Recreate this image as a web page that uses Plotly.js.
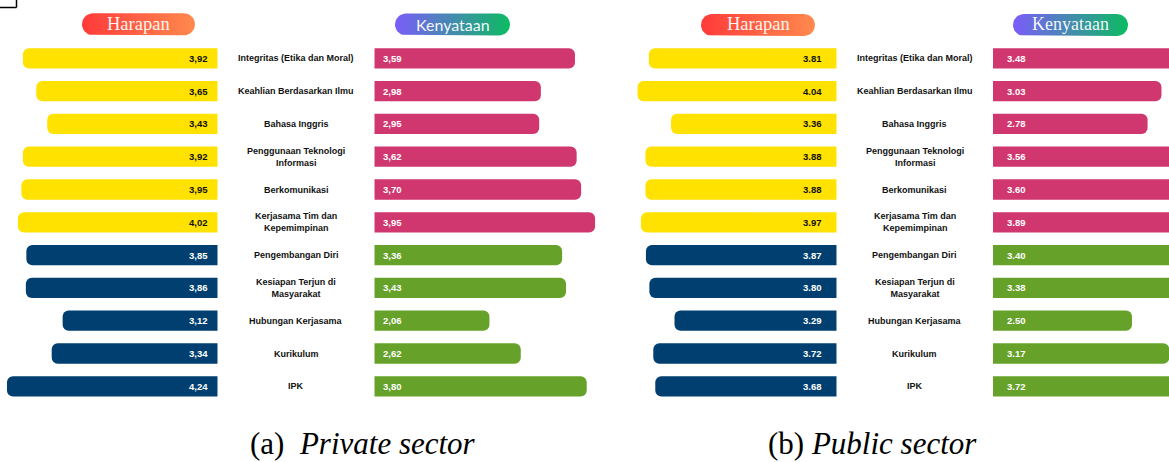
<!DOCTYPE html>
<html><head><meta charset="utf-8">
<script src="https://cdn.plot.ly/plotly-3.0.1.min.js"></script>
<style>html,body{margin:0;padding:0;background:#fff;overflow:hidden}#chart{width:1169px;height:462px}</style>
</head><body><div id="chart"></div>
<script>
// ---------- data ----------
const categories = ['Integritas (Etika dan Moral)','Keahlian Berdasarkan Ilmu','Bahasa Inggris','Penggunaan Teknologi Informasi','Berkomunikasi','Kerjasama Tim dan Kepemimpinan','Pengembangan Diri','Kesiapan Terjun di Masyarakat','Hubungan Kerjasama','Kurikulum','IPK'];
const categoryLabels = ['Integritas (Etika dan Moral)','Keahlian Berdasarkan Ilmu','Bahasa Inggris','Penggunaan Teknologi<br>Informasi','Berkomunikasi','Kerjasama Tim dan<br>Kepemimpinan','Pengembangan Diri','Kesiapan Terjun di<br>Masyarakat','Hubungan Kerjasama','Kurikulum','IPK'];
const groupIndex = [0,0,0,0,0,0,1,1,1,1,1];
const privateHarapan   = [3.92,3.65,3.43,3.92,3.95,4.02,3.85,3.86,3.12,3.34,4.24];
const privateKenyataan = [3.59,2.98,2.95,3.62,3.70,3.95,3.36,3.43,2.06,2.62,3.80];
const publicHarapan    = [3.81,4.04,3.36,3.88,3.88,3.97,3.87,3.80,3.29,3.72,3.68];
const publicKenyataan  = [3.48,3.03,2.78,3.56,3.60,3.89,3.40,3.38,2.50,3.17,3.72];
const headerLabels = ['Harapan','Kenyataan'];
const captions = ['(a)', 'Private sector', '(b)', 'Public sector'];

// ---------- styling ----------
const W = 1169, H = 462;
const px = p => p / W;
const py = p => 1 - p / H;
const harapanColors = ['#FFE200', '#013F70'];
const kenyataanColors = ['#D0376F', '#66A22A'];
const harapanText = ['#111111', '#FFFFFF'];
const SANS = 'Liberation Sans, Arial, sans-serif';
const SERIF = 'Liberation Serif, Times New Roman, serif';

const fmtComma = v => v.toFixed(2).replace('.', ',');
const fmtDot = v => v.toFixed(2);

function barTrace(vals, xa, palette) {
  return {
    type: 'bar', orientation: 'h', x: vals, y: categories,
    xaxis: xa, yaxis: 'y', width: 0.62,
    marker: { color: groupIndex.map(g => palette[g]), cornerradius: 6, line: { width: 0 } },
    hoverinfo: 'skip', showlegend: false
  };
}

function pill(x0, x1, y0, y1) {
  const r = (y1 - y0) / 2, cy = (y0 + y1) / 2;
  const xs = [], ys = [];
  for (let a = -90; a <= 90; a += 10) {
    const t = a * Math.PI / 180;
    xs.push(x1 - r + r * Math.cos(t)); ys.push(cy + r * Math.sin(t));
  }
  for (let a = 90; a <= 270; a += 10) {
    const t = a * Math.PI / 180;
    xs.push(x0 + r + r * Math.cos(t)); ys.push(cy + r * Math.sin(t));
  }
  xs.push(xs[0]); ys.push(ys[0]);
  return { xs, ys };
}
function pillTrace(g, c0, c1) {
  const p = pill(...g);
  return {
    type: 'scatter', mode: 'lines', x: p.xs, y: p.ys, xaxis: 'x5', yaxis: 'y5',
    line: { width: 0, color: 'rgba(0,0,0,0)' }, fill: 'toself',
    fillgradient: { type: 'horizontal', colorscale: [[0, c0], [1, c1]] },
    hoverinfo: 'skip', showlegend: false
  };
}

const pills = [
  { g: [82, 195, 13.3, 35.3], c: ['#FF3A3A', '#FF8A4E'], label: headerLabels[0], font: SERIF, size: 18.5 },
  { g: [395, 510, 13.5, 35.5], c: ['#7B5CFA', '#0CBB62'], label: headerLabels[1], font: 'Lato, Open Sans, sans-serif', size: 16 },
  { g: [701, 815, 14, 36], c: ['#FF3A3A', '#FF8A4E'], label: headerLabels[0], font: SERIF, size: 18.5 },
  { g: [1013, 1128, 14, 36], c: ['#7B5CFA', '#0CBB62'], label: headerLabels[1], font: SERIF, size: 18 }
];

const traces = [
  barTrace(privateHarapan, 'x', harapanColors),
  barTrace(privateKenyataan, 'x2', kenyataanColors),
  barTrace(publicHarapan, 'x3', harapanColors),
  barTrace(publicKenyataan, 'x4', kenyataanColors),
  ...pills.map(p => pillTrace(p.g, p.c[0], p.c[1]))
];

const annotations = [];
function valueAnns(vals, xa, fmt, side, shift, colorFn) {
  vals.forEach((v, i) => annotations.push({
    xref: xa, yref: 'y', x: 0, y: categories[i], text: fmt(v), showarrow: false,
    xanchor: side === 'left' ? 'right' : 'left', yanchor: 'middle',
    xshift: side === 'left' ? -shift : shift,
    font: { family: SANS, size: 9.5, weight: 'bold', color: colorFn(i) }
  }));
}
valueAnns(privateHarapan, 'x', fmtComma, 'left', 7.5, i => harapanText[groupIndex[i]]);
valueAnns(privateKenyataan, 'x2', fmtComma, 'right', 7, i => '#FFFFFF');
valueAnns(publicHarapan, 'x3', fmtDot, 'left', 13, i => harapanText[groupIndex[i]]);
valueAnns(publicKenyataan, 'x4', fmtDot, 'right', 12, i => '#FFFFFF');

[296, 914.8].forEach(cx => categoryLabels.forEach((lab, i) => annotations.push({
  xref: 'paper', yref: 'y', x: px(cx), y: categories[i], text: lab, showarrow: false,
  xanchor: 'center', yanchor: 'middle', align: 'center',
  font: { family: SANS, size: 9, weight: 'bold', color: '#111111' }
})));

pills.forEach(p => annotations.push({
  xref: 'paper', yref: 'paper', x: px((p.g[0] + p.g[1]) / 2), y: py((p.g[2] + p.g[3]) / 2 - 0.5),
  text: p.label, showarrow: false, xanchor: 'center', yanchor: 'middle',
  font: { family: p.font, size: p.size, color: 'rgba(255,255,255,0.95)' }
}));

annotations.push({
  xref: 'paper', yref: 'paper', x: px(362.5), y: py(443), showarrow: false,
  text: captions[0] + '\u00a0\u00a0<i>' + captions[1] + '</i>', xanchor: 'center', yanchor: 'middle',
  font: { family: SERIF, size: 31, color: '#000000' }
});
annotations.push({
  xref: 'paper', yref: 'paper', x: px(872.5), y: py(443), showarrow: false,
  text: captions[2] + '\u00a0<i>' + captions[3] + '</i>', xanchor: 'center', yanchor: 'middle',
  font: { family: SERIF, size: 31, color: '#000000' }
});

const hidden = { visible: false, fixedrange: true, showgrid: false, zeroline: false };
const layout = {
  width: W, height: H, margin: { l: 0, r: 0, t: 0, b: 0 },
  paper_bgcolor: '#FFFFFF', plot_bgcolor: 'rgba(0,0,0,0)',
  barmode: 'overlay', showlegend: false,
  xaxis:  { ...hidden, domain: [0, px(217.7)], range: [217.7 / 49.7, 0] },
  xaxis2: { ...hidden, domain: [px(374.3), px(619.3)], range: [0, 245 / 55.9] },
  xaxis3: { ...hidden, domain: [px(600), px(836.7)], range: [236.7 / 49.3, 0] },
  xaxis4: { ...hidden, domain: [px(993), 1], range: [0, 176 / 55.6] },
  yaxis:  { ...hidden, domain: [py(402.7), py(41.9)], type: 'category', categoryorder: 'array', categoryarray: categories, range: [10.5, -0.5] },
  xaxis5: { ...hidden, domain: [0, 1], range: [0, W], anchor: 'y5' },
  yaxis5: { ...hidden, domain: [0, 1], range: [H, 0], anchor: 'x5' },
  annotations,
  shapes: [
    { type: 'line', xref: 'paper', yref: 'paper', x0: 0, x1: px(16.5), y0: py(7.5), y1: py(7.5), line: { color: '#000', width: 1.5 } },
    { type: 'line', xref: 'paper', yref: 'paper', x0: px(16.5), x1: px(16.5), y0: 1, y1: py(7.5), line: { color: '#000', width: 1.5 } }
  ]
};

Plotly.newPlot('chart', traces, layout, { staticPlot: true, displayModeBar: false });
</script>
</body></html>
